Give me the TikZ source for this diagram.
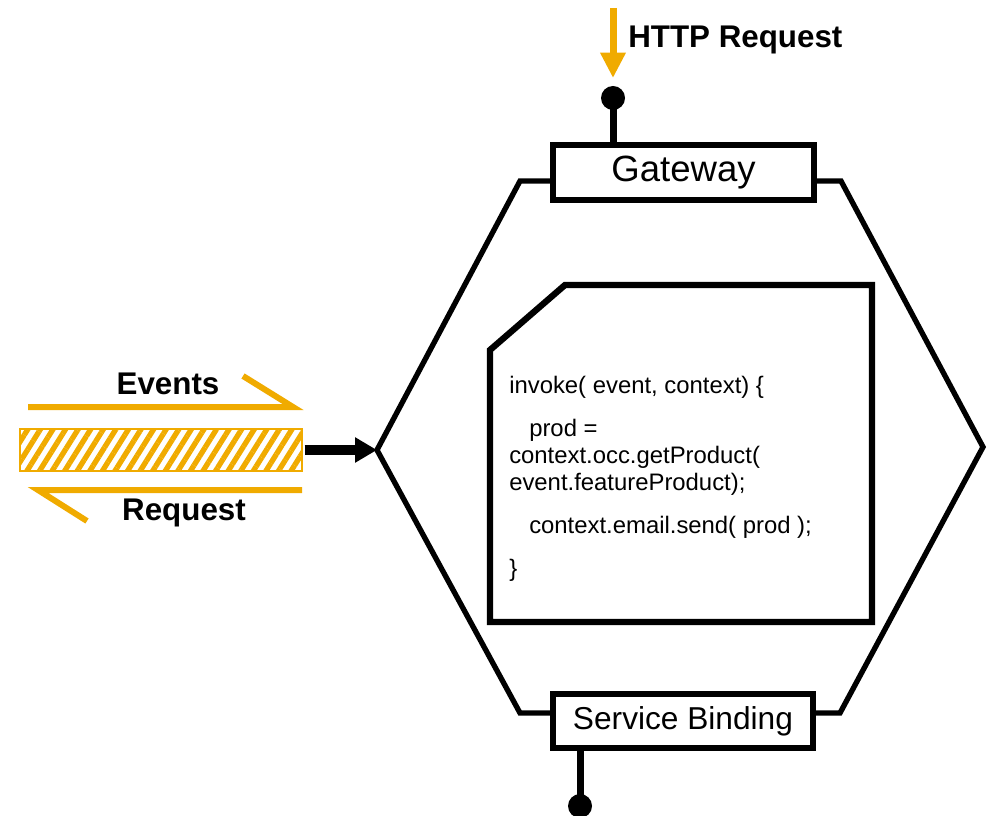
\documentclass[tikz,border=0pt]{standalone}
\usepackage{fontspec}
\setmainfont{Liberation Sans}
\usetikzlibrary{arrows.meta,patterns.meta}
\definecolor{sapgold}{RGB}{240,171,0}

\begin{document}
\begin{tikzpicture}[line cap=butt,line join=miter,x=0.75pt,y=-0.75pt,
		port/.style={draw,line width=4.25pt,fill=white,inner sep=0pt},
		tag/.style={font=\bfseries\fontsize{23.5}{26}\selectfont,inner sep=0pt},
		pin/.style={line width=5.25pt}]
	\useasboundingbox (0,0) rectangle (992,816);
	\coordinate (hexL) at (377,450);
	\coordinate (hexR) at (983,447);
	% hexagon with its two ports
	\draw [line width=4pt] (553,181) -- (520,181) -- (hexL) -- (520,713) -- (553,713);
	\draw [line width=4pt] (813,181) -- (841,181) -- (hexR) -- (840,713) -- (813,713);
	\node [port,minimum width=195.75pt,minimum height=41.25pt,font=\fontsize{27.4}{30}\selectfont] (gateway) at (683.5,172.5) {Gateway};
	\node [port,minimum width=195pt,minimum height=40.5pt,font=\fontsize{23.75}{27}\selectfont] (binding) at (683,721) {Service Binding};
	% function body
	\draw [line width=4.75pt] (490,350) -- (565,285) -- (872,285) -- (872,622) -- (490,622) -- cycle;
	\node [anchor=base west,align=left,inner sep=0pt,font=\fontsize{17.9}{20.25}\selectfont] (code) at (509,576)
		{invoke( event, context) \{\\[12pt]
		\hspace*{15pt}prod =\\
		context.occ.getProduct(\\
		event.featureProduct);\\[12pt]
		\hspace*{15pt}context.email.send( prod );\\[12pt]
		\}};
	% pins
	\coordinate (gwpin) at (613,98);
	\coordinate (sbpin) at (580,806);
	\draw [pin] (gateway.north -| gwpin) -- (gwpin);
	\fill (gwpin) circle (9pt);
	\draw [pin] (binding.south -| sbpin) -- (sbpin);
	\fill (sbpin) circle (9pt);
	\draw [sapgold,line width=5.25pt,-{Triangle[width=18pt,length=19pt]}] (613,8) -- (613,78);
	\node [tag,anchor=base west] (http) at (628,48) {HTTP Request};
	% event channel
	\node [draw=sapgold,line width=1pt,pattern={Lines[angle=58,distance=8pt,line width=4pt]},pattern color=sapgold,
		minimum width=211.5pt,minimum height=31.5pt,inner sep=0pt] (bar) at (161,450) {};
	\draw [line width=7pt,-{Triangle[width=18pt,length=16.5pt]}] (bar.east) -- (hexL);
	\draw [sapgold,line width=4.5pt] (28,407) -- (293,407) -- (243,376);
	\draw [sapgold,line width=4.5pt] (302,490) -- (38,490) -- (87,521);
	\node [tag,anchor=base] (events) at (168,395) {Events};
	\node [tag,anchor=base] (request) at (184,520) {Request};
\end{tikzpicture}
\end{document}
